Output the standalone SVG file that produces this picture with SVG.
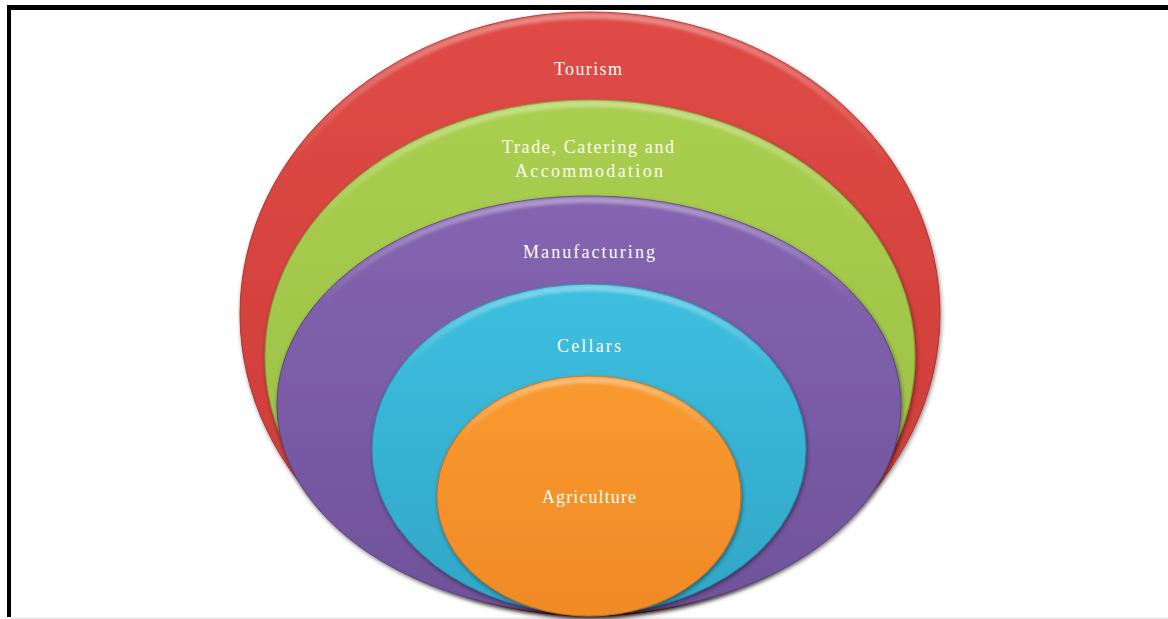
<svg xmlns="http://www.w3.org/2000/svg" width="1168" height="619" viewBox="0 0 1168 619">
  <style>
    .label { font-family: "Liberation Serif", "DejaVu Serif", serif; font-size: 18px; fill: #FFFBF2; text-anchor: middle; }
    .rim { fill: none; stroke: url(#rim); stroke-width: 6; filter: url(#soft); }
  </style>
  <defs>
    <filter id="shade" x="-10%" y="-10%" width="120%" height="125%">
      <feDropShadow dx="1" dy="2" stdDeviation="2" flood-color="#000" flood-opacity="0.45"/>
    </filter>
    <filter id="soft" x="-5%" y="-5%" width="110%" height="110%">
      <feGaussianBlur stdDeviation="1.5"/>
    </filter>
    <linearGradient id="rim" x1="0" y1="0" x2="0" y2="1">
      <stop offset="0" stop-color="#fff" stop-opacity="0.35"/>
      <stop offset="0.25" stop-color="#fff" stop-opacity="0"/>
    </linearGradient>
    <linearGradient id="gRed" x1="0" y1="0" x2="0" y2="1">
      <stop offset="0" stop-color="#E04B46"/>
      <stop offset="1" stop-color="#C93A36"/>
    </linearGradient>
    <linearGradient id="gGreen" x1="0" y1="0" x2="0" y2="1">
      <stop offset="0" stop-color="#AACE4F"/>
      <stop offset="1" stop-color="#98BD43"/>
    </linearGradient>
    <linearGradient id="gPurple" x1="0" y1="0" x2="0" y2="1">
      <stop offset="0" stop-color="#8565B1"/>
      <stop offset="1" stop-color="#6F529A"/>
    </linearGradient>
    <linearGradient id="gCyan" x1="0" y1="0" x2="0" y2="1">
      <stop offset="0" stop-color="#3EBFE0"/>
      <stop offset="1" stop-color="#31A6C6"/>
    </linearGradient>
    <linearGradient id="gOrange" x1="0" y1="0" x2="0" y2="1">
      <stop offset="0" stop-color="#F99A30"/>
      <stop offset="1" stop-color="#F08A26"/>
    </linearGradient>
  </defs>

  <rect width="1168" height="619" fill="#fff"/>
  <!-- frame -->
  <rect x="7" y="5" width="1161" height="5" fill="#000"/>
  <rect x="7" y="5" width="4" height="612" fill="#000"/>
  <rect x="11" y="617" width="1157" height="2" fill="#EFEFEF"/>

  <g id="tourism">
    <ellipse cx="590" cy="314" rx="350" ry="302" fill="url(#gRed)" stroke="#A9312E" stroke-width="1" filter="url(#shade)"/>
    <ellipse class="rim" cx="590" cy="314" rx="346" ry="298"/>
    <text class="label" x="588" y="75" textLength="68" lengthAdjust="spacing">Tourism</text>
  </g>

  <g id="trade">
    <ellipse cx="590" cy="357" rx="325" ry="257" fill="url(#gGreen)" stroke="#7E9E36" stroke-width="1" filter="url(#shade)"/>
    <ellipse class="rim" cx="590" cy="357" rx="321" ry="253"/>
    <text class="label" x="588" y="153" textLength="172" lengthAdjust="spacing">Trade, Catering and</text>
    <text class="label" x="589" y="177" textLength="148" lengthAdjust="spacing">Accommodation</text>
  </g>

  <g id="manufacturing">
    <ellipse cx="589" cy="405" rx="312" ry="209" fill="url(#gPurple)" stroke="#5A4180" stroke-width="1" filter="url(#shade)"/>
    <ellipse class="rim" cx="589" cy="405" rx="308" ry="205"/>
    <text class="label" x="589" y="258" textLength="132" lengthAdjust="spacing">Manufacturing</text>
  </g>

  <g id="cellars">
    <ellipse cx="589" cy="449" rx="217" ry="165" fill="url(#gCyan)" stroke="#2789A5" stroke-width="1" filter="url(#shade)"/>
    <ellipse class="rim" cx="589" cy="449" rx="213" ry="161"/>
    <text class="label" x="589" y="352" textLength="64" lengthAdjust="spacing">Cellars</text>
  </g>

  <g id="agriculture">
    <ellipse cx="589" cy="496" rx="152" ry="120" fill="url(#gOrange)" stroke="#C86E1C" stroke-width="1" filter="url(#shade)"/>
    <ellipse class="rim" cx="589" cy="496" rx="148" ry="116"/>
    <text class="label" x="589" y="503" textLength="94" lengthAdjust="spacing">Agriculture</text>
  </g>

  <g id="connectors"></g>
</svg>
